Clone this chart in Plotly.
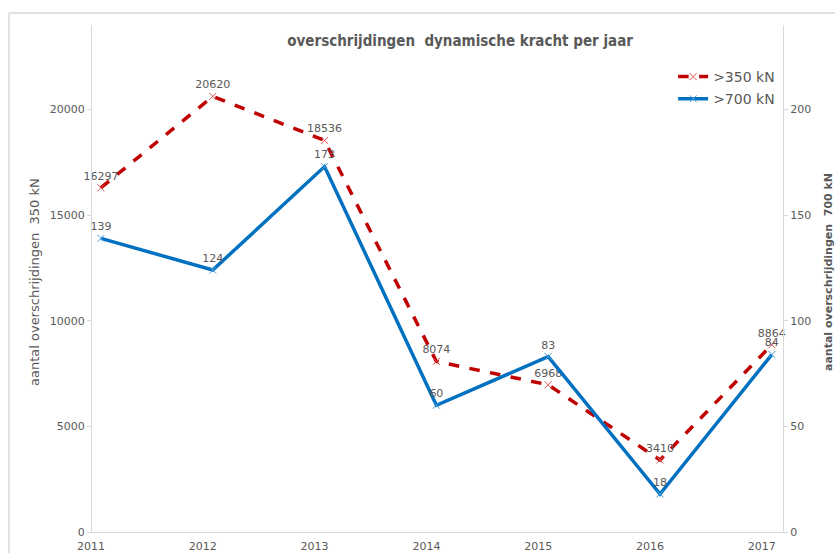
import plotly.graph_objects as go

years = [2011, 2012, 2013, 2014, 2015, 2016, 2017]
over_350 = [16297, 20620, 18536, 8074, 6968, 3410, 8864]
over_700 = [139, 124, 173, 60, 83, 18, 84]
left_ticks = [0, 5000, 10000, 15000, 20000]
right_ticks = [0, 50, 100, 150, 200]

GRAY_TXT = "#595959"
AXIS = "#D9D9D9"
RED = "#C00000"
BLUE = "#0070C0"
FONT = "DejaVu Sans, Verdana, sans-serif"

fig = go.Figure()
fig.add_trace(go.Scatter(
    x=years, y=over_350, name=">350 kN", mode="lines+markers+text",
    line=dict(color=RED, width=3.5, dash="dash"),
    marker=dict(symbol="x-thin", size=7, color=RED, line=dict(width=1, color="#E05050")),
    text=[str(v) for v in over_350], textposition="top center",
    textfont=dict(family=FONT, size=11, color=GRAY_TXT),
    cliponaxis=False, yaxis="y", legendgroup="a",
))
fig.add_trace(go.Scatter(
    x=years, y=over_700, name=">700 kN", mode="lines+markers+text",
    line=dict(color=BLUE, width=3.5),
    marker=dict(symbol="x-thin", size=7, color=BLUE, line=dict(width=1, color="#4FA3E0")),
    text=[str(v) for v in over_700], textposition="top center",
    textfont=dict(family=FONT, size=11, color=GRAY_TXT),
    cliponaxis=False, yaxis="y2", legendgroup="b",
))

fig.update_layout(
    width=835, height=553,
    margin=dict(l=92, r=52, t=25, b=21, autoexpand=False),
    paper_bgcolor="white", plot_bgcolor="white",
    font=dict(family=FONT, color=GRAY_TXT),
    title=dict(text="<b>overschrijdingen\u00a0 dynamische kracht per jaar</b>",
               x=0.551, xanchor="center", y=1 - 41 / 553, yanchor="middle",
               font=dict(family="Liberation Sans Narrow, DejaVu Sans Condensed, Arial Narrow, sans-serif",
                         size=15, color=GRAY_TXT)),
    xaxis=dict(range=[2010.92, 2017.1], tickvals=years, ticktext=[str(y) for y in years],
               showgrid=False, zeroline=False, showline=True, linecolor=AXIS, linewidth=1,
               ticks="", ticklabelshift=-10, ticklabelstandoff=4, automargin=False,
               tickfont=dict(family=FONT, size=11, color=GRAY_TXT)),
    yaxis=dict(range=[0, 24000], tickvals=left_ticks, tickformat="d", showgrid=False, zeroline=False,
               showline=True, linecolor=AXIS, linewidth=1, ticks="outside", ticklen=4,
               tickcolor=AXIS, automargin=False, tickfont=dict(family=FONT, size=11, color=GRAY_TXT)),
    yaxis2=dict(range=[0, 240], tickvals=right_ticks, tickformat="d", overlaying="y", side="right",
                showgrid=False, zeroline=False, showline=True, linecolor=AXIS, linewidth=1,
                ticks="outside", ticklen=4, tickcolor=AXIS, automargin=False,
                tickfont=dict(family=FONT, size=11, color=GRAY_TXT)),
    legend=dict(x=0.841, y=0.929, xanchor="left", yanchor="top", bgcolor="rgba(0,0,0,0)",
                font=dict(family=FONT, size=14, color=GRAY_TXT),
                traceorder="grouped", tracegroupgap=1),
    showlegend=True,
    annotations=[
        dict(text="aantal overschrijdingen\u00a0 350 kN", textangle=-90, xref="paper", yref="paper",
             x=(35 - 92) / 691, y=(532 - 282) / 507, showarrow=False,
             xanchor="center", yanchor="middle",
             font=dict(family=FONT, size=13, color=GRAY_TXT)),
        dict(text="<b>aantal overschrijdingen\u00a0 700 kN</b>", textangle=-90, xref="paper", yref="paper",
             x=(828 - 92) / 691, y=(532 - 272) / 507, showarrow=False,
             xanchor="center", yanchor="middle",
             font=dict(family=FONT, size=11, color=GRAY_TXT)),
    ],
    shapes=[
        dict(type="line", xref="paper", yref="paper", x0=(9 - 92) / 691, x1=1.1,
             y0=(532 - 13) / 507, y1=(532 - 13) / 507, line=dict(color=AXIS, width=1.5)),
        dict(type="line", xref="paper", yref="paper", x0=(9 - 92) / 691, x1=(9 - 92) / 691,
             y0=(532 - 13) / 507, y1=-0.1, line=dict(color=AXIS, width=1.5)),
    ],
)

fig.write_html("out.html", config={"displayModeBar": False},
               post_script="document.body.style.margin='0';")
